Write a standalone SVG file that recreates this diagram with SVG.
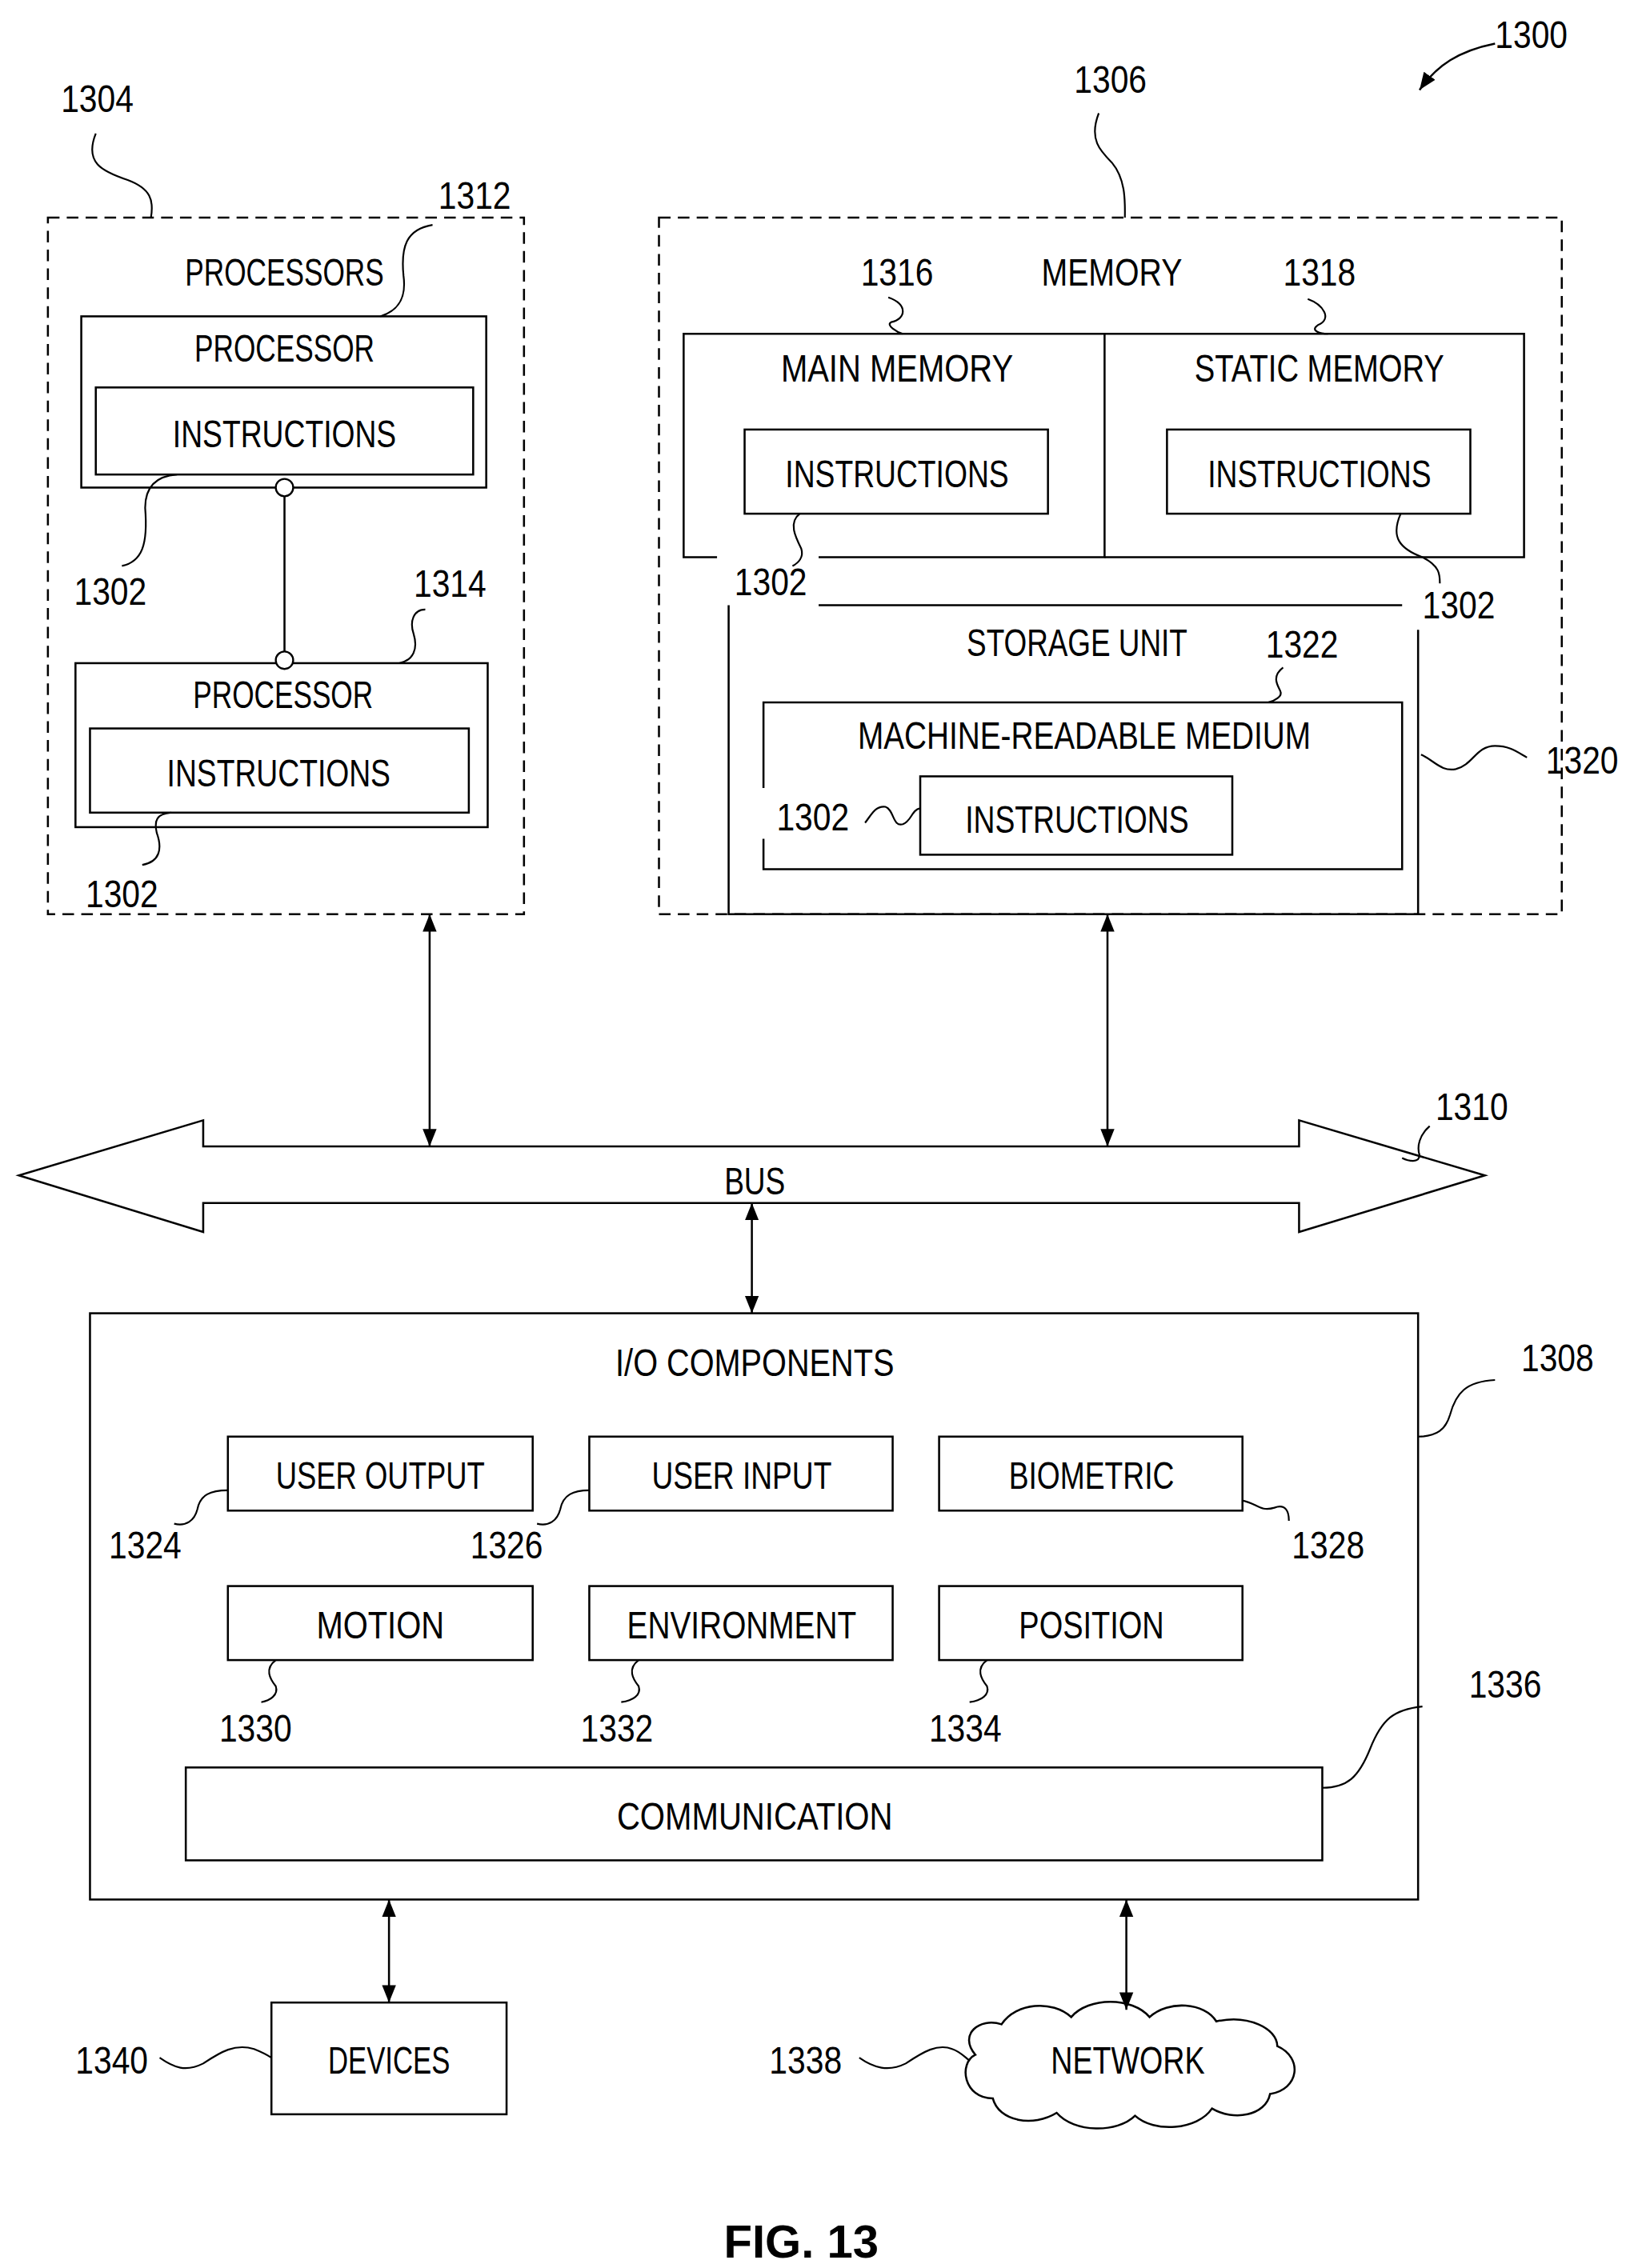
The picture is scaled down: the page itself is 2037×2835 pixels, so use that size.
<svg xmlns="http://www.w3.org/2000/svg" width="2037" height="2835" viewBox="0 0 2037 2835">
<style>
.b{fill:none;stroke:#000;stroke-width:1.4}
.d{fill:none;stroke:#000;stroke-width:1.4;stroke-dasharray:8 5}
.t{font-family:"Liberation Sans",Arial,sans-serif;font-size:27px;fill:#000}
.m{text-anchor:middle}
.l{fill:none;stroke:#000;stroke-width:1.2}
</style>
<defs>
<marker id="a" viewBox="0 0 10 10" refX="10" refY="5" markerWidth="12" markerHeight="12" markerUnits="userSpaceOnUse" orient="auto-start-reverse"><path d="M0,1 L10,5 L0,9 Z" fill="#000"/></marker>
</defs>
<rect width="2037" height="2835" fill="#fff"/>
<g transform="scale(1.8139)">
<g id="processors">
<rect class="d" x="33" y="150" width="328" height="480"/>
<text class="t m" x="196" y="197" textLength="137" lengthAdjust="spacingAndGlyphs">PROCESSORS</text>
</g>
<g id="processor1">
<rect class="b" x="56" y="218" width="279" height="118"/>
<text class="t m" x="196" y="249" textLength="124" lengthAdjust="spacingAndGlyphs">PROCESSOR</text>
<rect class="b" x="66" y="267" width="260" height="60"/>
<text class="t m" x="196" y="308" textLength="154" lengthAdjust="spacingAndGlyphs">INSTRUCTIONS</text>
</g>
<g id="processor2">
<rect class="b" x="52" y="457" width="284" height="113"/>
<text class="t m" x="195" y="488" textLength="124" lengthAdjust="spacingAndGlyphs">PROCESSOR</text>
<rect class="b" x="62" y="502" width="261" height="58"/>
<text class="t m" x="192" y="542" textLength="154" lengthAdjust="spacingAndGlyphs">INSTRUCTIONS</text>
</g>
<g id="memory">
<rect class="d" x="454" y="150" width="622" height="480"/>
<text class="t m" x="766" y="197" textLength="97" lengthAdjust="spacingAndGlyphs">MEMORY</text>
</g>
<g id="main-memory">
<path class="b" d="M494,384 H471 V230 H761 V384 H564"/>
<text class="t m" x="618" y="263" textLength="160" lengthAdjust="spacingAndGlyphs">MAIN MEMORY</text>
<rect class="b" x="513" y="296" width="209" height="58"/>
<text class="t m" x="618" y="336" textLength="154" lengthAdjust="spacingAndGlyphs">INSTRUCTIONS</text>
</g>
<g id="static-memory">
<path class="b" d="M761,230 H1050 V384 H761"/>
<text class="t m" x="909" y="263" textLength="172" lengthAdjust="spacingAndGlyphs">STATIC MEMORY</text>
<rect class="b" x="804" y="296" width="209" height="58"/>
<text class="t m" x="909" y="336" textLength="154" lengthAdjust="spacingAndGlyphs">INSTRUCTIONS</text>
</g>
<g id="storage-unit">
<path class="b" d="M564,417 H966 M977,434 V630 H502 V417"/>
<text class="t m" x="742" y="452" textLength="152" lengthAdjust="spacingAndGlyphs">STORAGE UNIT</text>
<path class="b" d="M526,543 V484 H966 V599 H526 V578"/>
<text class="t m" x="747" y="516" textLength="312" lengthAdjust="spacingAndGlyphs">MACHINE-READABLE MEDIUM</text>
<rect class="b" x="634" y="535" width="215" height="54"/>
<text class="t m" x="742" y="574" textLength="154" lengthAdjust="spacingAndGlyphs">INSTRUCTIONS</text>
</g>
<g id="bus">
<path class="b" d="M140,790 H895 V772 L1023,810 L895,849 V829 H140 V849 L13,810 L140,772 Z" stroke-width="1.6"/>
<text class="t m" x="520" y="823" textLength="42" lengthAdjust="spacingAndGlyphs">BUS</text>
</g>
<g id="io">
<rect class="b" x="62" y="905" width="915" height="404"/>
<text class="t m" x="520" y="948" textLength="192" lengthAdjust="spacingAndGlyphs">I/O COMPONENTS</text>
</g>
<g id="user-output"><rect class="b" x="157" y="990" width="210" height="51"/><text class="t m" x="262" y="1026" textLength="144" lengthAdjust="spacingAndGlyphs">USER OUTPUT</text></g>
<g id="user-input"><rect class="b" x="406" y="990" width="209" height="51"/><text class="t m" x="511" y="1026" textLength="124" lengthAdjust="spacingAndGlyphs">USER INPUT</text></g>
<g id="biometric"><rect class="b" x="647" y="990" width="209" height="51"/><text class="t m" x="752" y="1026" textLength="114" lengthAdjust="spacingAndGlyphs">BIOMETRIC</text></g>
<g id="motion"><rect class="b" x="157" y="1093" width="210" height="51"/><text class="t m" x="262" y="1129" textLength="88" lengthAdjust="spacingAndGlyphs">MOTION</text></g>
<g id="environment"><rect class="b" x="406" y="1093" width="209" height="51"/><text class="t m" x="511" y="1129" textLength="158" lengthAdjust="spacingAndGlyphs">ENVIRONMENT</text></g>
<g id="position"><rect class="b" x="647" y="1093" width="209" height="51"/><text class="t m" x="752" y="1129" textLength="100" lengthAdjust="spacingAndGlyphs">POSITION</text></g>
<g id="communication"><rect class="b" x="128" y="1218" width="783" height="64"/><text class="t m" x="520" y="1261" textLength="190" lengthAdjust="spacingAndGlyphs">COMMUNICATION</text></g>
<g id="devices"><rect class="b" x="187" y="1380" width="162" height="77"/><text class="t m" x="268" y="1429" textLength="84" lengthAdjust="spacingAndGlyphs">DEVICES</text></g>
<g id="network">
<path class="b" d="M690,1395 C700,1380 725,1378 738,1390 C750,1376 780,1376 792,1390 C805,1378 830,1380 838,1393 C860,1388 880,1398 880,1410 C898,1418 895,1440 875,1443 C872,1458 850,1462 835,1453 C825,1468 795,1470 782,1458 C770,1470 740,1470 728,1456 C712,1466 688,1462 684,1446 C664,1446 660,1422 672,1416 C660,1402 675,1390 690,1395 Z"/>
<text class="t m" x="777" y="1429" textLength="106" lengthAdjust="spacingAndGlyphs">NETWORK</text>
</g>
<g id="connectors">
<circle cx="196" cy="336" r="6" fill="#fff" stroke="#000" stroke-width="1.3"/>
<circle cx="196" cy="455" r="6" fill="#fff" stroke="#000" stroke-width="1.3"/>
<line class="b" x1="196" y1="342" x2="196" y2="449"/>
<line class="b" x1="296" y1="630" x2="296" y2="790" marker-start="url(#a)" marker-end="url(#a)"/>
<line class="b" x1="763" y1="630" x2="763" y2="790" marker-start="url(#a)" marker-end="url(#a)"/>
<line class="b" x1="518" y1="829" x2="518" y2="905" marker-start="url(#a)" marker-end="url(#a)"/>
<line class="b" x1="268" y1="1309" x2="268" y2="1380" marker-start="url(#a)" marker-end="url(#a)"/>
<line class="b" x1="776" y1="1309" x2="776" y2="1385" marker-start="url(#a)" marker-end="url(#a)"/>
<path class="b" d="M1030,30 C1005,35 990,45 978,62" marker-end="url(#a)"/>
</g>
<g id="leaders">
<path class="l" d="M66,92 C58,112 70,118 88,124 C104,130 106,138 104,150"/>
<path class="l" d="M298,155 C280,158 276,170 278,190 C280,205 275,214 262,218"/>
<path class="l" d="M122,327 C108,328 100,335 100,350 C102,375 98,387 84,390"/>
<path class="l" d="M293,420 C285,420 282,428 285,437 C288,447 285,455 275,457"/>
<path class="l" d="M118,560 C108,561 106,565 108,574 C112,585 110,594 98,596"/>
<path class="l" d="M757,78 C750,96 758,104 766,112 C776,124 775,140 775,150"/>
<path class="l" d="M612,205 C626,210 624,220 614,222 C610,224 618,229 622,230"/>
<path class="l" d="M901,206 C912,210 918,220 908,224 C902,228 910,230 915,230"/>
<path class="l" d="M551,354 C543,360 548,370 552,378 C554,384 550,388 546,390"/>
<path class="l" d="M965,354 C958,370 964,378 980,384 C992,390 992,396 992,402"/>
<path class="l" d="M884,460 C876,466 880,472 882,476 C884,480 878,483 874,484"/>
<path class="l" d="M596,567 C600,562 603,555 610,556 C616,558 615,570 622,568 C628,566 628,558 634,557"/>
<path class="l" d="M979,520 C988,524 993,532 1003,530 C1015,527 1017,514 1030,514 C1040,514 1045,518 1052,522"/>
<path class="l" d="M985,776 C978,782 976,790 978,796 C978,802 970,800 966,798"/>
<path class="l" d="M977,990 C990,990 996,985 999,975 C1003,960 1010,952 1030,951"/>
<path class="l" d="M120,1050 C128,1052 134,1048 136,1040 C138,1030 145,1027 157,1027"/>
<path class="l" d="M370,1050 C378,1052 384,1048 386,1040 C388,1030 395,1027 406,1027"/>
<path class="l" d="M856,1034 C866,1036 868,1042 878,1039 C886,1036 888,1042 888,1048"/>
<path class="l" d="M190,1144 C182,1150 186,1157 190,1162 C192,1168 186,1172 180,1173"/>
<path class="l" d="M440,1144 C432,1150 436,1157 440,1162 C442,1168 436,1172 428,1173"/>
<path class="l" d="M680,1144 C672,1150 676,1157 680,1162 C682,1168 676,1172 668,1173"/>
<path class="l" d="M911,1232 C928,1232 936,1225 944,1205 C952,1185 960,1178 980,1176"/>
<path class="l" d="M110,1418 C120,1425 128,1428 140,1422 C152,1414 162,1408 175,1412 C180,1414 184,1416 187,1418"/>
<path class="l" d="M592,1418 C602,1425 612,1428 624,1422 C636,1414 646,1408 656,1412 C662,1414 665,1418 668,1420"/>
</g>
<g id="labels">
<text class="t m" x="67" y="77" textLength="50" lengthAdjust="spacingAndGlyphs">1304</text>
<text class="t m" x="327" y="144" textLength="50" lengthAdjust="spacingAndGlyphs">1312</text>
<text class="t m" x="76" y="417" textLength="50" lengthAdjust="spacingAndGlyphs">1302</text>
<text class="t m" x="310" y="411" textLength="50" lengthAdjust="spacingAndGlyphs">1314</text>
<text class="t m" x="84" y="625" textLength="50" lengthAdjust="spacingAndGlyphs">1302</text>
<text class="t m" x="765" y="64" textLength="50" lengthAdjust="spacingAndGlyphs">1306</text>
<text class="t m" x="1055" y="33" textLength="50" lengthAdjust="spacingAndGlyphs">1300</text>
<text class="t m" x="618" y="197" textLength="50" lengthAdjust="spacingAndGlyphs">1316</text>
<text class="t m" x="909" y="197" textLength="50" lengthAdjust="spacingAndGlyphs">1318</text>
<text class="t m" x="531" y="410" textLength="50" lengthAdjust="spacingAndGlyphs">1302</text>
<text class="t m" x="1005" y="426" textLength="50" lengthAdjust="spacingAndGlyphs">1302</text>
<text class="t m" x="897" y="453" textLength="50" lengthAdjust="spacingAndGlyphs">1322</text>
<text class="t m" x="1090" y="533" textLength="50" lengthAdjust="spacingAndGlyphs">1320</text>
<text class="t m" x="560" y="572" textLength="50" lengthAdjust="spacingAndGlyphs">1302</text>
<text class="t m" x="1014" y="772" textLength="50" lengthAdjust="spacingAndGlyphs">1310</text>
<text class="t m" x="1073" y="945" textLength="50" lengthAdjust="spacingAndGlyphs">1308</text>
<text class="t m" x="100" y="1074" textLength="50" lengthAdjust="spacingAndGlyphs">1324</text>
<text class="t m" x="349" y="1074" textLength="50" lengthAdjust="spacingAndGlyphs">1326</text>
<text class="t m" x="915" y="1074" textLength="50" lengthAdjust="spacingAndGlyphs">1328</text>
<text class="t m" x="176" y="1200" textLength="50" lengthAdjust="spacingAndGlyphs">1330</text>
<text class="t m" x="425" y="1200" textLength="50" lengthAdjust="spacingAndGlyphs">1332</text>
<text class="t m" x="665" y="1200" textLength="50" lengthAdjust="spacingAndGlyphs">1334</text>
<text class="t m" x="1037" y="1170" textLength="50" lengthAdjust="spacingAndGlyphs">1336</text>
<text class="t m" x="77" y="1429" textLength="50" lengthAdjust="spacingAndGlyphs">1340</text>
<text class="t m" x="555" y="1429" textLength="50" lengthAdjust="spacingAndGlyphs">1338</text>
<text class="m" x="552" y="1556" style="font-family:'Liberation Sans',Arial,sans-serif;font-weight:bold;font-size:32px">FIG. 13</text>
</g>
</g>
</svg>
